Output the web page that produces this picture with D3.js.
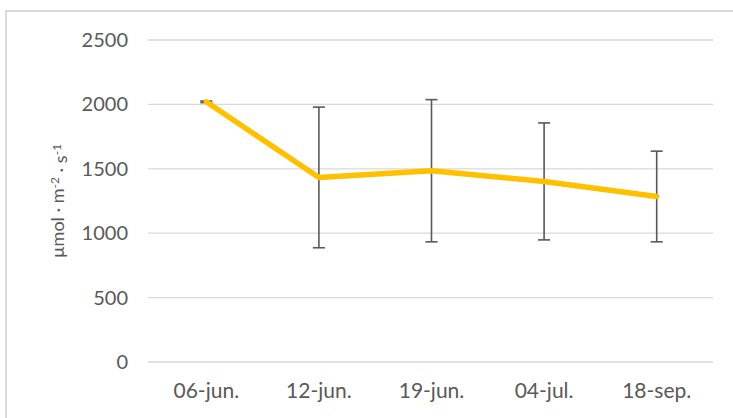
<!DOCTYPE html>
<html>
<head>
<meta charset="utf-8">
<script src="https://cdn.jsdelivr.net/npm/d3@7"></script>
<style>
  html, body { margin: 0; padding: 0; background: #fff; }
  svg { display: block; }
  text { font-family: Lato, "Open Sans", sans-serif; fill: #595959; }
</style>
</head>
<body>
<svg id="chart" width="733" height="418"></svg>
<script>
// Sampling dates, mean values and standard deviations
const categories = ["06-jun.", "12-jun.", "19-jun.", "04-jul.", "18-sep."];
const means = [2020, 1433, 1485, 1402, 1285];
const errors = [6, 546, 552, 454, 352];
const yTicks = [0, 500, 1000, 1500, 2000, 2500];

const svg = d3.select("#chart");
const W = 733, H = 418;
const margin = { left: 150, right: 20, top: 40, bottom: 56 };

// chart frame
svg.append("path")
  .attr("d", `M6,${H} V11 H${W}`)
  .attr("fill", "none")
  .attr("stroke", "#d9d9d9")
  .attr("stroke-width", 2);

const x = d3.scaleBand()
  .domain(categories)
  .range([margin.left, W - margin.right]);

const y = d3.scaleLinear()
  .domain([0, 2500])
  .range([H - margin.bottom, margin.top]);

// horizontal gridlines
svg.append("g")
  .selectAll("line")
  .data(yTicks)
  .join("line")
  .attr("x1", margin.left - 2)
  .attr("x2", W - margin.right)
  .attr("y1", d => y(d))
  .attr("y2", d => y(d))
  .attr("stroke", "#d9d9d9")
  .attr("stroke-width", 1.3);

// y axis labels
const yAxis = d3.axisLeft(y).tickValues(yTicks).tickFormat(d3.format("d")).tickSize(0).tickPadding(0);
svg.append("g")
  .attr("transform", `translate(128,0)`)
  .call(yAxis)
  .call(g => g.select(".domain").remove())
  .call(g => g.selectAll("text")
    .style("font-size", "20px")
    .attr("fill", "#595959")
    .style("font-family", "Lato, 'Open Sans', sans-serif"));

// x axis labels
const xAxis = d3.axisBottom(x).tickSize(0).tickPadding(0);
svg.append("g")
  .attr("transform", `translate(0,398)`)
  .call(xAxis)
  .call(g => g.select(".domain").remove())
  .call(g => g.selectAll("text")
    .style("font-size", "21px")
    .attr("fill", "#595959")
    .attr("y", 0)
    .attr("dy", "0")
    .style("font-family", "Lato, 'Open Sans', sans-serif"));

// y axis title
const title = svg.append("text")
  .attr("transform", `translate(64,201) rotate(-90)`)
  .attr("text-anchor", "middle")
  .style("font-size", "18px");
title.append("tspan").text("µmol · m");
title.append("tspan").attr("dy", "-0.45em").style("font-size", "12px").text("-2");
title.append("tspan").attr("dy", "0.45em").text(" · s");
title.append("tspan").attr("dy", "-0.45em").style("font-size", "12px").text("-1");

const cx = d => x(d) + x.bandwidth() / 2;
const rows = categories.map((c, i) => ({ c, m: means[i], e: errors[i] }));

// error bars
const eb = svg.append("g").attr("stroke", "#595959").attr("stroke-width", 1.6);
eb.selectAll("line.v")
  .data(rows)
  .join("line")
  .attr("class", "v")
  .attr("x1", d => cx(d.c)).attr("x2", d => cx(d.c))
  .attr("y1", d => y(d.m + d.e)).attr("y2", d => y(d.m - d.e));
eb.selectAll("line.t")
  .data(rows)
  .join("line")
  .attr("class", "t")
  .attr("x1", d => cx(d.c) - 6).attr("x2", d => cx(d.c) + 6)
  .attr("y1", d => y(d.m + d.e)).attr("y2", d => y(d.m + d.e));
eb.selectAll("line.b")
  .data(rows)
  .join("line")
  .attr("class", "b")
  .attr("x1", d => cx(d.c) - 6).attr("x2", d => cx(d.c) + 6)
  .attr("y1", d => y(d.m - d.e)).attr("y2", d => y(d.m - d.e));

// mean line
const line = d3.line().x(d => cx(d.c)).y(d => y(d.m));
svg.append("path")
  .datum(rows)
  .attr("d", line)
  .attr("fill", "none")
  .attr("stroke", "#FFC000")
  .attr("stroke-width", 5.5)
  .attr("stroke-linejoin", "round")
  .attr("stroke-linecap", "round");
</script>
</body>
</html>
